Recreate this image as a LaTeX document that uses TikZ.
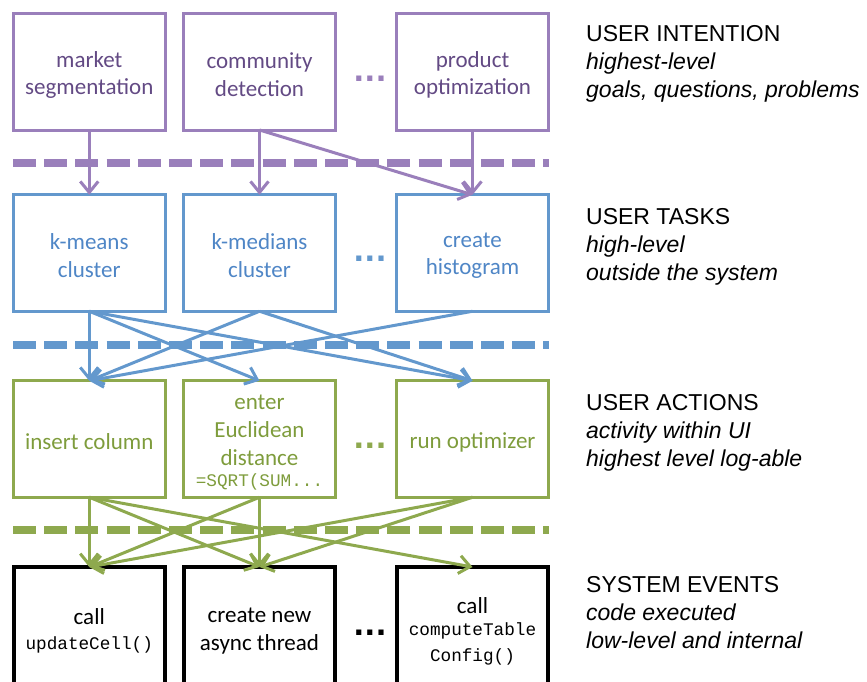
\documentclass[tikz,border=0pt]{standalone}
\usepackage{fontspec}
\setmainfont{Carlito}
\setmonofont{Liberation Mono}
\newfontfamily\labelfont{Liberation Sans}
\newfontfamily\dotfont{DejaVu Sans}
\usetikzlibrary{arrows.meta}
\definecolor{purpL}{HTML}{9A7FBB}
\definecolor{purpT}{HTML}{634A84}
\definecolor{blueL}{HTML}{6398CD}
\definecolor{blueT}{HTML}{4F86C6}
\definecolor{greenL}{HTML}{8EA94E}
\definecolor{greenT}{HTML}{7E9C3C}
\newcommand\cmono{\fontsize{17.7}{25}\selectfont\ttfamily}
\begin{document}
\begin{tikzpicture}[x=1pt,y=-1pt,
  box/.style={draw, line width=3pt, minimum width=151.5pt, minimum height=116.5pt,
    inner sep=0pt, outer sep=0pt},
  pbox/.style={box, draw=purpL},
  bbox/.style={box, draw=blueL},
  gbox/.style={box, draw=greenL},
  kbox/.style={box, draw=black, line width=4pt, minimum height=122pt},
  txt/.style={inner sep=0pt, align=center, font=\fontsize{23}{27.5}\selectfont},
  sep/.style={line width=7.5pt, dash pattern=on 23pt off 8.2pt},
  conn/.style={line width=3pt, -{Straight Barb[length=11pt,width=18pt]}},
  dots/.style={anchor=base, inner sep=0pt, font=\dotfont\fontsize{29}{29}\selectfont\bfseries},
  lab/.style={anchor=north west, inner sep=0pt, align=left, font=\labelfont\fontsize{23}{28}\selectfont}
]
\useasboundingbox (0,0) rectangle (867,681);
% row 1
\node[pbox] (m) at (89.25,71.75) {};
\node[pbox] (c) at (259.5,71.75) {};
\node[pbox] (p) at (472.5,71.75) {};
\node[txt, text=purpT] (mt) at ([yshift=-3pt]m.center) {market\\segmentation};
\node[txt, text=purpT] (ct) at ([yshift=-3pt]c.center) {community\\detection};
\node[txt, text=purpT] (pt) at ([yshift=-3pt]p.center) {product\\optimization};
\node[dots, text=purpL] (d1) at (370,81) {...};
% row 2
\node[bbox] (km) at (89.25,253) {};
\node[bbox] (kmed) at (259.5,253) {};
\node[bbox] (hist) at (472.5,253) {};
\node[txt, text=blueT] (kmt) at ([yshift=-2.5pt]km.center) {k-means\\cluster};
\node[txt, text=blueT] (kmedt) at ([yshift=-2.5pt]kmed.center) {k-medians\\cluster};
\node[txt, text=blueT] (histt) at ([yshift=-2.5pt]hist.center) {create\\histogram};
\node[dots, text=blueL] (d2) at (370,261) {...};
% row 3
\node[gbox] (ins) at (89.25,439) {};
\node[gbox] (euc) at (259.5,439) {};
\node[gbox] (opt) at (472.5,439) {};
\node[txt, text=greenT] (inst) at ([yshift=-3pt]ins.center) {insert column};
\node[txt, text=greenT] (euct) at ([yshift=-3.5pt]euc.center) {enter\\[0.5pt]Euclidean\\[0.5pt]distance\\[-6pt]{\cmono =SQRT(SUM...}};
\node[txt, text=greenT] (optt) at ([yshift=-3pt]opt.center) {run optimizer};
\node[dots, text=greenL] (d3) at (370,448) {...};
% row 4
\node[kbox] (upd) at (89.25,628) {};
\node[kbox] (async) at (259.5,628) {};
\node[kbox] (cfg) at (472.5,628) {};
\node[txt] (updt) at ([yshift=-3pt]upd.center) {call\\[-2pt]{\cmono updateCell()}};
\node[txt] (asynct) at ([yshift=-3pt]async.center) {create new\\async thread};
\node[txt] (cfgt) at ([yshift=-3pt]cfg.center) {call\\[-5pt]{\cmono computeTable}\\[-2pt]{\cmono Config()}};
\node[dots, text=black] (d4) at (370,635) {...};
% separators
\draw[sep, purpL] (13,163) -- (549,163);
\draw[sep, blueL] (13,345) -- (549,345);
\draw[sep, greenL] (13,530) -- (549,530);
% purple connectors
\draw[conn, purpL] (m.south) -- (km.north);
\draw[conn, purpL] (c.south) -- (kmed.north);
\draw[conn, purpL] (p.south) -- (hist.north);
\draw[conn, purpL] (c.south) -- (hist.north);
% blue connectors
\draw[conn, blueL] (km.south) -- (ins.north);
\draw[conn, blueL] (km.south) -- (euc.north);
\draw[conn, blueL] (km.south) -- (opt.north);
\draw[conn, blueL] (kmed.south) -- (ins.north);
\draw[conn, blueL] (kmed.south) -- (opt.north);
\draw[conn, blueL] (hist.south) -- (ins.north);
% green connectors
\draw[conn, greenL] (ins.south) -- (upd.north);
\draw[conn, greenL] (ins.south) -- (async.north);
\draw[conn, greenL] (ins.south) -- (cfg.north);
\draw[conn, greenL] (euc.south) -- (upd.north);
\draw[conn, greenL] (euc.south) -- (async.north);
\draw[conn, greenL] (opt.south) -- (upd.north);
\draw[conn, greenL] (opt.south) -- (async.north);
% labels
\node[lab] (l1) at (586,24.75) {USER INTENTION\\\textit{highest-level}\\\textit{goals, questions, problems}};
\node[lab] (l2) at (586,207.75) {USER TASKS\\\textit{high-level}\\\textit{outside the system}};
\node[lab] (l3) at (586,393.75) {USER ACTIONS\\\textit{activity within UI}\\\textit{highest level log-able}};
\node[lab] (l4) at (586,575.75) {SYSTEM EVENTS\\\textit{code executed}\\\textit{low-level and internal}};
\end{tikzpicture}
\end{document}
